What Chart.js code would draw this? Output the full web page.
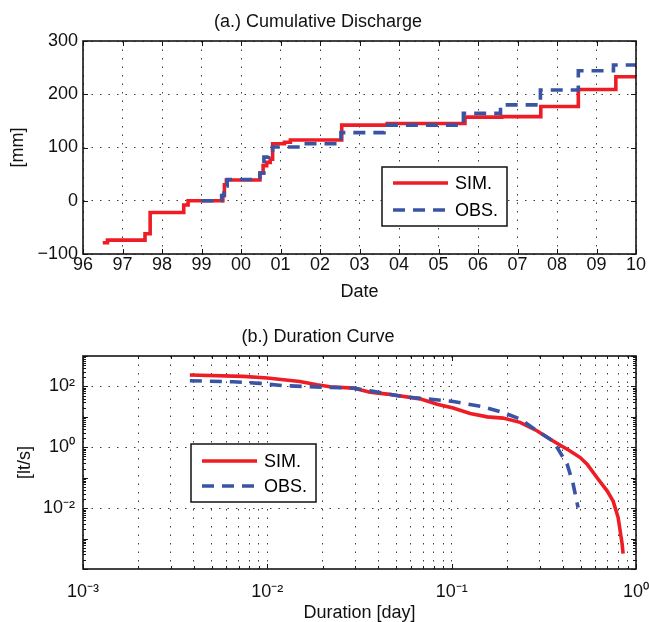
<!DOCTYPE html>
<html>
<head>
<meta charset="utf-8">
<script src="https://cdn.jsdelivr.net/npm/chart.js@4/dist/chart.umd.min.js"></script>
<style>
html,body{margin:0;padding:0;background:#fff;overflow:hidden;width:649px;height:622px;}
.wrap{position:absolute;left:0;width:649px;}
</style>
</head>
<body>
<div class="wrap" style="top:0;height:310px"><canvas id="c1" width="649" height="310"></canvas></div>
<div class="wrap" style="top:310px;height:324px"><canvas id="c2" width="649" height="324"></canvas></div>
<script>
// ---------- (a.) Cumulative Discharge ----------
const yearTicks = [1996,1997,1998,1999,2000,2001,2002,2003,2004,2005,2006,2007,2008,2009,2010];
const yearTickLabels = ['96','97','98','99','00','01','02','03','04','05','06','07','08','09','10'];
const cumYTicks = [-100,0,100,200,300];
const cumYTickLabels = ['\u2212100','0','100','200','300'];

const simCumX = [1996.50,1996.62,1997.57,1997.70,1998.55,1998.66,1999.54,1999.58,1999.63,2000.48,2000.56,2000.65,2000.74,2000.80,2001.10,2001.25,2002.55,2003.70,2005.67,2006.60,2007.59,2008.54,2009.49,2010.00];
const simCumY = [-79,-74,-62,-22,-8,0,10,30,39,52,66,72,78,107,110,114,142,145,157,158,177,209,233,233];

const obsCumX = [1999.00,1999.51,1999.57,1999.65,2000.48,2000.58,2000.70,2000.80,2001.50,2002.53,2003.62,2005.63,2006.57,2007.58,2008.54,2009.43,2010.00];
const obsCumY = [0,10,28,40,52,82,95,101,107,128,142,164,180,208,244,255,255];

// ---------- (b.) Duration Curve ----------
const durXTicks = [0.001,0.01,0.1,1];
const durXTickLabels = ['10\u207B\u00B3','10\u207B\u00B2','10\u207B\u00B9','10\u2070'];
const durYTicks = [0.01,1,100];
const durYTickLabels = ['10\u207B\u00B2','10\u2070','10\u00B2'];

const simDurX = [0.0038,0.0074,0.0100,0.0150,0.0186,0.0219,0.0292,0.0361,0.0447,0.0674,0.0834,0.1019,0.126,0.156,0.190,0.235,0.290,0.355,0.439,0.498,0.543,0.615,0.697,0.752,0.800,0.841,0.851];
const simDurY = [237,214,189,146,113,98,88,64,56,39,26,19.5,13,10,9.1,6.6,3.5,1.6,0.76,0.46,0.28,0.10,0.037,0.017,0.0049,0.00066,0.00032];

const obsDurX = [0.0038,0.0065,0.0091,0.0122,0.0219,0.0292,0.0361,0.0545,0.0674,0.1019,0.148,0.190,0.235,0.290,0.355,0.378,0.423,0.456,0.485];
const obsDurY = [154,142,126,106,93,88,72,46,41,32,21.5,14,8.5,3.5,1.6,0.87,0.28,0.062,0.0104];

const seriesNames = ['SIM.','OBS.'];

// ---------- styling ----------
const FONT = "'Liberation Sans', Arial, Helvetica, sans-serif";
const TXT = '#111';
const RED = '#EE1D25';
const BLUE = '#3A54A4';
const GRID = 'rgba(40,40,40,0.9)';
const GRID_DASH = [1.5, 7];

Chart.defaults.font.family = FONT;
Chart.defaults.font.size = 18;
Chart.defaults.color = TXT;

const pts = (xs, ys) => xs.map((x, i) => ({x: x, y: ys[i]}));
const isDecade = v => Math.abs(Math.log10(v) - Math.round(Math.log10(v))) < 1e-9;
function logTicks(lo, hi) { // lo, hi exponents
  const out = [];
  for (let e = lo; e < hi; e++) for (let k = 1; k <= 9; k++) out.push({value: k * Math.pow(10, e)});
  out.push({value: Math.pow(10, hi)});
  return out;
}
const idxOf = (arr, v) => arr.findIndex(a => Math.abs(a - v) <= Math.abs(v) * 1e-9);

// box + inward ticks
const boxTicks = {
  id: 'boxTicks',
  afterDatasetsDraw(chart) {
    const {ctx, chartArea: a} = chart;
    ctx.save();
    ctx.strokeStyle = '#151515';
    ctx.lineWidth = 1;
    ctx.setLineDash([]);
    ['x', 'y'].forEach(id => {
      const s = chart.scales[id];
      const log = s.type === 'logarithmic';
      s.ticks.forEach(t => {
        const len = (!log || isDecade(t.value)) ? 5 : 3;
        const p = Math.round(s.getPixelForValue(t.value)) + 0.5;
        ctx.beginPath();
        if (id === 'x') {
          ctx.moveTo(p, a.bottom); ctx.lineTo(p, a.bottom - len);
          ctx.moveTo(p, a.top); ctx.lineTo(p, a.top + len);
        } else {
          ctx.moveTo(a.left, p); ctx.lineTo(a.left + len, p);
          ctx.moveTo(a.right, p); ctx.lineTo(a.right - len, p);
        }
        ctx.stroke();
      });
    });
    ctx.lineWidth = 1.6;
    ctx.strokeRect(a.left, a.top, a.right - a.left, a.bottom - a.top);
    ctx.restore();
  }
};

// boxed legend inside plot
const boxLegend = {
  id: 'boxLegend',
  afterDraw(chart, args, o) {
    const {ctx, chartArea: a} = chart;
    const x0 = a.left + o.dx, y0 = a.top + o.dy;
    ctx.save();
    ctx.fillStyle = '#fff';
    ctx.fillRect(x0, y0, 125, o.h);
    ctx.strokeStyle = '#111';
    ctx.lineWidth = 1.5;
    ctx.setLineDash([]);
    ctx.strokeRect(x0, y0, 125, o.h);
    const order = [0, 1];
    order.forEach((di, k) => {
      const ds = chart.data.datasets[di];
      const yy = y0 + o.rows[k];
      ctx.beginPath();
      ctx.strokeStyle = ds.borderColor;
      ctx.lineWidth = ds.borderWidth;
      ctx.setLineDash(ds.borderDash || []);
      ctx.moveTo(x0 + 11, yy); ctx.lineTo(x0 + 66, yy);
      ctx.stroke();
      ctx.setLineDash([]);
      ctx.fillStyle = '#000';
      ctx.font = '18px ' + FONT;
      ctx.textBaseline = 'middle';
      ctx.textAlign = 'left';
      ctx.fillText(ds.label, x0 + 73, yy + 1);
    });
    ctx.restore();
  }
};

function gridOpts(colorFn) {
  return {color: colorFn || GRID, lineWidth: 1, drawTicks: false};
}

// ---------- chart 1 ----------
new Chart(document.getElementById('c1'), {
  type: 'line',
  data: {
    datasets: [
      {label: seriesNames[0], data: pts(simCumX, simCumY), borderColor: RED, borderWidth: 3.6,
       stepped: 'before', pointRadius: 0, fill: false, order: 2},
      {label: seriesNames[1], data: pts(obsCumX, obsCumY), borderColor: BLUE, borderWidth: 3.6,
       borderDash: [12, 8], stepped: 'before', pointRadius: 0, fill: false, order: 1}
    ]
  },
  options: {
    responsive: false, animation: false, devicePixelRatio: 1,
    layout: {padding: {left: 0, right: 13, top: 0, bottom: 0}},
    plugins: {
      legend: {display: false}, tooltip: {enabled: false},
      title: {display: true, text: '(a.) Cumulative Discharge', color: TXT,
              font: {size: 18, weight: 'normal'}, padding: {top: 11, bottom: 8.4}},
      boxLegend: {dx: 299, dy: 126, h: 59, rows: [16, 43]}
    },
    scales: {
      x: {
        type: 'linear', min: 1996, max: 2010,
        afterBuildTicks: s => { s.ticks = yearTicks.map(v => ({value: v})); },
        ticks: {callback: (v, i) => yearTickLabels[i], autoSkip: false, maxRotation: 0, padding: 0, color: TXT},
        grid: gridOpts(),
        border: {display: false, dash: GRID_DASH},
        title: {display: true, text: 'Date', color: TXT, font: {size: 18}, padding: {top: 0, bottom: 7}},
        afterFit: s => { s.height = 56; s.paddingLeft = 0; s.paddingRight = 0; }
      },
      y: {
        type: 'linear', min: -100, max: 300,
        afterBuildTicks: s => { s.ticks = cumYTicks.map(v => ({value: v})); },
        ticks: {callback: (v, i) => cumYTickLabels[i], padding: 5, color: TXT},
        grid: gridOpts(),
        border: {display: false, dash: GRID_DASH},
        title: {display: true, text: '[mm]', color: TXT, font: {size: 18}, padding: {top: 7.7, bottom: 0}},
        afterFit: s => { s.width = 83; s.paddingTop = 0; s.paddingBottom = 0; }
      }
    }
  },
  plugins: [boxTicks, boxLegend]
});

// ---------- chart 2 ----------
new Chart(document.getElementById('c2'), {
  type: 'line',
  data: {
    datasets: [
      {label: seriesNames[0], data: pts(simDurX, simDurY), borderColor: RED, borderWidth: 3.6,
       pointRadius: 0, fill: false, tension: 0, order: 2},
      {label: seriesNames[1], data: pts(obsDurX, obsDurY), borderColor: BLUE, borderWidth: 3.6,
       borderDash: [12, 8], pointRadius: 0, fill: false, tension: 0, order: 1}
    ]
  },
  options: {
    responsive: false, animation: false, devicePixelRatio: 1,
    layout: {padding: {left: 0, right: 13, top: 0, bottom: 0}},
    plugins: {
      legend: {display: false}, tooltip: {enabled: false},
      title: {display: true, text: '(b.) Duration Curve', color: TXT,
              font: {size: 18, weight: 'normal'}, padding: {top: 16.2, bottom: 8.2}},
      boxLegend: {dx: 108, dy: 88, h: 58, rows: [17, 42]}
    },
    scales: {
      x: {
        type: 'logarithmic', min: 0.001, max: 1,
        afterBuildTicks: s => { s.ticks = logTicks(-3, 0); },
        ticks: {callback: v => { const i = idxOf(durXTicks, v); return i >= 0 ? durXTickLabels[i] : ''; },
                autoSkip: false, maxRotation: 0, padding: 12, color: TXT},
        grid: gridOpts(),
        border: {display: false, dash: GRID_DASH},
        title: {display: true, text: 'Duration [day]', color: TXT, font: {size: 18}, padding: {top: 0, bottom: 10.2}},
        afterFit: s => { s.height = 65; s.paddingLeft = 0; s.paddingRight = 0; }
      },
      y: {
        type: 'logarithmic', min: 0.0001, max: 1000,
        afterBuildTicks: s => { s.ticks = logTicks(-4, 3); },
        ticks: {callback: v => { const i = idxOf(durYTicks, v); return i >= 0 ? durYTickLabels[i] : ''; },
                autoSkip: false, padding: 8, color: TXT},
        grid: gridOpts(ctx => (ctx.tick && idxOf(durYTicks, ctx.tick.value) >= 0) ? GRID : 'rgba(0,0,0,0)'),
        border: {display: false, dash: GRID_DASH},
        title: {display: true, text: '[lt/s]', color: TXT, font: {size: 18}, padding: {top: 14.7, bottom: 0}},
        afterFit: s => { s.width = 83; s.paddingTop = 0; s.paddingBottom = 0; }
      }
    }
  },
  plugins: [boxTicks, boxLegend]
});
</script>
</body>
</html>
